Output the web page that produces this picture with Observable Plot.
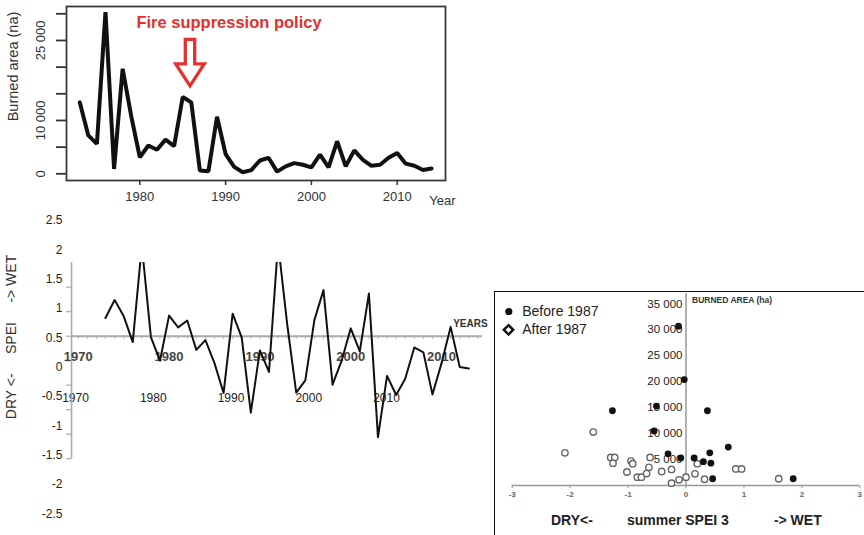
<!DOCTYPE html>
<html>
<head>
<meta charset="utf-8">
<script src="https://cdn.jsdelivr.net/npm/d3@7"></script>
<script src="https://cdn.jsdelivr.net/npm/@observablehq/plot@0.6"></script>
<style>
  html, body { margin: 0; padding: 0; background: #fff; }
  body { width: 864px; height: 535px; position: relative; overflow: hidden; font-family: "Liberation Sans", Arial, sans-serif; }
  .panel { position: absolute; }
  .panel svg { overflow: visible; max-width: none !important; }
  #scatterBox { position: absolute; left: 494px; top: 291px; width: 420px; height: 300px; border-left: 1.5px solid #111; border-top: 1.5px solid #111; box-sizing: border-box; }
</style>
</head>
<body>
<div id="scatterBox"></div>
<div id="p1" class="panel" style="left:0;top:0"></div>
<div id="p2a" class="panel" style="left:0;top:205px"></div>
<div id="p2b" class="panel" style="left:0;top:262px"></div>
<div id="p3" class="panel" style="left:494px;top:291px"></div>
<script>
// ---------- DATA ----------
// Panel 1: burned area per year (ha)
const burnedYears = [1973,1974,1975,1976,1977,1978,1979,1980,1981,1982,1983,1984,1985,1986,1987,1988,1989,1990,1991,1992,1993,1994,1995,1996,1997,1998,1999,2000,2001,2002,2003,2004,2005,2006,2007,2008,2009,2010,2011,2012,2013,2014];
const burnedArea = [13400,7200,5600,30300,900,19700,10800,3100,5300,4500,6400,5200,14400,13400,600,500,10700,3700,1300,300,700,2500,3000,400,1400,2000,1700,1200,3600,1200,6100,1400,4400,2600,1500,1700,3000,3900,1900,1500,700,1000];
const areaTicks = [0,5000,10000,15000,20000,25000,30000];
const areaTickLabels = [0,10000,25000];
const decadeTicks = [1980,1990,2000,2010];
const titleText = "Fire suppression policy";
const arrowAnchor = [{year: 1985.85, area: 16500}];

// Panel 2: summer SPEI per year
const speiYears = [1973,1974,1975,1976,1977,1978,1979,1980,1981,1982,1983,1984,1985,1986,1987,1988,1989,1990,1991,1992,1993,1994,1995,1996,1997,1998,1999,2000,2001,2002,2003,2004,2005,2006,2007,2008,2009,2010,2011,2012,2013];
const speiValues = [0.37,0.74,0.41,-0.12,1.85,-0.02,-0.50,0.42,0.18,0.32,-0.28,-0.08,-0.55,-1.16,0.46,-0.03,-1.56,-0.29,-0.73,1.90,0.25,-1.15,-0.90,0.33,0.94,-0.99,-0.50,0.16,-0.31,0.87,-2.06,-0.81,-1.20,-0.87,-0.23,-0.33,-1.19,-0.55,0.19,-0.63,-0.66];
const speiOuterTicks = [2.5,2,1.5,1,0.5,0,-0.5,-1,-1.5,-2,-2.5];
const speiInnerTicks = [1,0.5,0,-0.5,-1,-1.5,-2,-2.5];
const speiDecades = [1970,1980,1990,2000,2010];
const speiMinorYears = [1970,1971,1972,1973,1974,1975,1976,1977,1978,1979,1980,1981,1982,1983,1984,1985,1986,1987,1988,1989,1990,1991,1992,1993,1994,1995,1996,1997,1998,1999,2000,2001,2002,2003,2004,2005,2006,2007,2008,2009,2010,2011,2012,2013,2014];
const speiAxisStartYear = [1969.26];
const speiTitle = "DRY <-\u00a0\u00a0\u00a0\u00a0\u00a0SPEI\u00a0\u00a0\u00a0\u00a0\u00a0-> WET";

// Panel 3: scatter burned area vs summer SPEI 3
const beforeSpei = [-0.13,-0.03,-0.51,-1.27,0.37,-0.55,0.73,0.41,-0.31,-0.09,0.14,0.30,0.43,0.46,1.85];
const beforeArea = [30700,20400,15300,14400,14400,10500,7400,6300,6100,5300,5300,4600,4300,1300,1300];
const afterSpei = [-2.09,-1.60,-1.30,-1.23,-1.26,-0.95,-0.92,-1.02,-0.84,-0.77,-0.68,-0.64,-0.62,-0.42,-0.25,-0.25,-0.12,0.00,0.155,0.195,0.32,0.86,0.96,1.60];
const afterArea = [6300,10300,5400,5400,4300,4700,4200,2600,1600,1600,2300,3500,5400,2700,3100,450,1100,1600,2250,4200,1200,3200,3200,1300];
const scatterXTicks = [-3,-2,-1,0,1,2,3];
const scatterYTicks = [5000,10000,15000,20000,25000,30000,35000];
const legendLabels = ["Before 1987", "After 1987"];
const scatterAxisLabels = [{label: "DRY<-", spei: -1.97}, {label: "summer SPEI 3", spei: -0.14}, {label: "-> WET", spei: 1.93}];

// ---------- HELPERS ----------
const font = "'Liberation Sans', Arial, Helvetica, sans-serif";
const spaceFmt = d3.formatLocale({decimal: ".", thousands: " ", grouping: [3], currency: ["", ""]}).format(",");
const baseStyle = {background: "transparent", fontFamily: font, overflow: "visible", color: "#222"};
const mid = {textAnchor: "middle", lineAnchor: "middle"};

const blockArrow = {
  draw(context, l) {
    const sw = 4.7, hw = 14.3, hl = 22;
    context.moveTo(-sw, 0);
    context.lineTo(-sw, -(l - hl));
    context.lineTo(-hw, -(l - hl));
    context.lineTo(0, -l);
    context.lineTo(hw, -(l - hl));
    context.lineTo(sw, -(l - hl));
    context.lineTo(sw, 0);
    context.closePath();
  }
};

// ---------- PANEL 1 ----------
const burned = burnedYears.map((year, i) => ({year, area: burnedArea[i]}));
const p1 = Plot.plot({
  width: 470, height: 215,
  marginLeft: 66, marginRight: 25, marginTop: 6, marginBottom: 35,
  style: baseStyle,
  x: {domain: [1980, 2010], range: [139.3, 396.7], label: null},
  y: {domain: [0, 30000], range: [173.3, 13.3], label: null},
  marks: [
    Plot.frame({stroke: "#3a3a3a", strokeWidth: 1.8}),
    Plot.axisY({ticks: areaTicks, tickSize: 10, tickPadding: 12, tickRotate: -90, fontSize: 13, stroke: "#333", strokeWidth: 1.8, fill: "#333", label: null,
      tickFormat: d => areaTickLabels.includes(d) ? spaceFmt(d) : ""}),
    Plot.axisX({ticks: decadeTicks, tickSize: 5, tickPadding: 6, fontSize: 13, stroke: "#333", strokeWidth: 1.5, fill: "#333", label: null, tickFormat: d => String(d)}),
    Plot.text(["Year"], {frameAnchor: "bottom-right", dx: -3, dy: 20, fontSize: 13, fill: "#333", text: d => d, ...mid}),
    Plot.text(["Burned area (na)"], {frameAnchor: "left", rotate: -90, dx: -53, dy: -27, fontSize: 14.5, fill: "#333", text: d => d, ...mid}),
    Plot.line(burned, {x: "year", y: "area", stroke: "#111", strokeWidth: 4, strokeLinejoin: "miter"}),
    Plot.text([titleText], {frameAnchor: "top-left", dx: 162.5, dy: 16.7, fontSize: 16.5, fontWeight: "bold", fill: "#e53030", text: d => d, ...mid}),
    Plot.vector(arrowAnchor, {x: "year", y: "area", length: 46.5, rotate: 180, anchor: "end", shape: blockArrow,
      stroke: "#e53030", strokeWidth: 3.3, fill: "white", strokeLinejoin: "miter"})
  ]
});
document.getElementById("p1").appendChild(p1);

// ---------- PANEL 2 (outer labels) ----------
const p2a = Plot.plot({
  width: 490, height: 330,
  marginLeft: 64, marginRight: 0, marginTop: 15, marginBottom: 147,
  style: baseStyle,
  x: {domain: [1970, 2010], range: [75, 386], label: null},
  y: {domain: [-2.5, 2.5], range: [308.3, 15], label: null},
  marks: [
    Plot.axisY({ticks: speiOuterTicks, tickSize: 0, tickPadding: 2, fontSize: 12, fill: "#222", label: null, tickFormat: d => String(d)}),
    Plot.axisX({ticks: speiDecades, tickSize: 0, tickPadding: 5, fontSize: 12, fill: "#222", label: null, tickFormat: d => String(d)}),
    Plot.text([speiTitle], {frameAnchor: "left", rotate: -90, dx: -53, dy: 32.5, fontSize: 14, fill: "#333", text: d => d, ...mid})
  ]
});
document.getElementById("p2a").appendChild(p2a);

// ---------- PANEL 2 (inner chart) ----------
const spei = speiYears.map((year, i) => ({year, value: speiValues[i]}));
const p2b = Plot.plot({
  width: 490, height: 205,
  marginLeft: 71.5, marginRight: 8, marginTop: 0, marginBottom: 0,
  style: baseStyle,
  x: {domain: [1973, 2013], range: [105, 468.3], axis: null, label: null},
  y: {domain: [-1, 1], range: [122.7, 24.7], label: null},
  marks: [
    Plot.axisY({ticks: speiInnerTicks, tickSize: 5.5, stroke: "#aaa", strokeWidth: 1.2, label: null, tickFormat: () => ""}),
    Plot.ruleX(speiAxisStartYear, {y1: -2.5, y2: 1.5, stroke: "#aaa", strokeWidth: 1.6}),
    Plot.ruleX(speiMinorYears, {y1: 0, y2: -0.06, stroke: "#aaa", strokeWidth: 1}),
    Plot.ruleY([0], {stroke: "#aaa", strokeWidth: 2}),
    Plot.text(speiDecades, {x: d => d, y: 0, dy: 21, text: d => String(d), fontWeight: "bold", fontSize: 13, fill: "#444", ...mid}),
    Plot.text(["YEARS"], {frameAnchor: "top-right", dx: -29.3, dy: 61.3, textAnchor: "start", lineAnchor: "middle", fontWeight: "bold", fontSize: 10, fill: "#333", text: d => d}),
    Plot.line(spei, {x: "year", y: "value", stroke: "#111", strokeWidth: 2, clip: true})
  ]
});
document.getElementById("p2b").appendChild(p2b);

// ---------- PANEL 3 (scatter) ----------
const before = beforeSpei.map((s, i) => ({spei: s, area: beforeArea[i]}));
const after = afterSpei.map((s, i) => ({spei: s, area: afterArea[i]}));
const p3 = Plot.plot({
  width: 370, height: 244,
  marginLeft: 17.7, marginRight: 4.7, marginTop: 12.35, marginBottom: 50,
  style: baseStyle,
  x: {domain: [-3, 3], label: null},
  y: {domain: [0, 35000], label: null},
  marks: [
    Plot.ruleY([0], {stroke: "#999", strokeWidth: 1.5}),
    Plot.ruleX([0], {y1: 0, y2: 37000, stroke: "#999", strokeWidth: 1.5}),
    Plot.axisX({ticks: scatterXTicks, tickSize: 3, tickPadding: 3, fontSize: 8, fontWeight: "bold", fill: "#666", stroke: "#999", label: null, tickFormat: d => String(d)}),
    Plot.axisY({ticks: scatterYTicks, tickSize: 0, tickPadding: 3, dx: 173.3, fontSize: 11.5, fill: "#222", label: null, tickFormat: d => spaceFmt(d)}),
    Plot.text(["BURNED AREA (ha)"], {x: 0, y: 35000, dx: 6, dy: -3.3, textAnchor: "start", lineAnchor: "middle", fontWeight: "bold", fontSize: 8.5, fill: "#333", text: d => d}),
    Plot.dot(after, {x: "spei", y: "area", r: 3.2, fill: "white", stroke: "#666", strokeWidth: 1.4}),
    Plot.dot(before, {x: "spei", y: "area", r: 3.4, fill: "#111"}),
    Plot.dot([legendLabels[0]], {frameAnchor: "top-left", dx: -3.4, dy: 7.65, r: 3.6, fill: "#111"}),
    Plot.dot([legendLabels[1]], {frameAnchor: "top-left", dx: -3.7, dy: 26, r: 4.2, symbol: "diamond2", stroke: "#111", strokeWidth: 2.5, fill: "white"}),
    Plot.text([legendLabels[0]], {frameAnchor: "top-left", dx: 10, dy: 7.65, textAnchor: "start", lineAnchor: "middle", fontSize: 14, fill: "#222", text: d => d}),
    Plot.text([legendLabels[1]], {frameAnchor: "top-left", dx: 10, dy: 26, textAnchor: "start", lineAnchor: "middle", fontSize: 14, fill: "#222", text: d => d}),
    Plot.text(scatterAxisLabels, {x: "spei", text: "label", frameAnchor: "bottom", dy: 35, fontWeight: "bold", fontSize: 14, fill: "#222", ...mid})
  ]
});
document.getElementById("p3").appendChild(p3);
</script>
</body>
</html>
